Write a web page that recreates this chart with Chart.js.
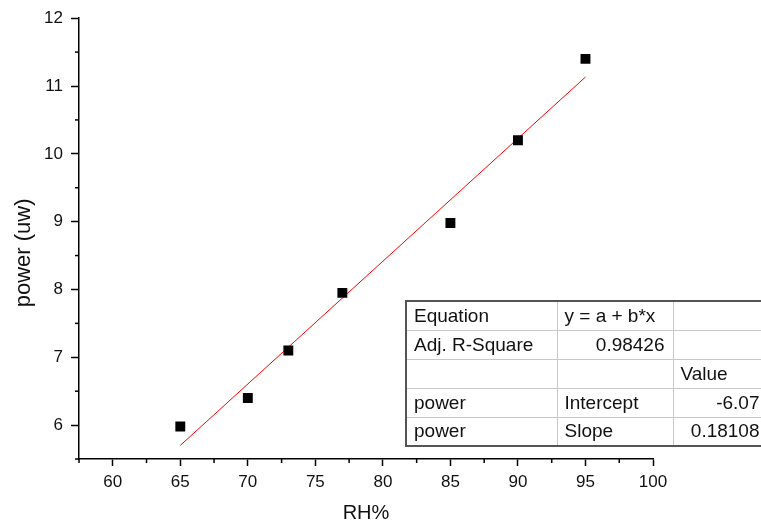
<!DOCTYPE html>
<html>
<head>
<meta charset="utf-8">
<script src="https://cdn.jsdelivr.net/npm/chart.js@4/dist/chart.umd.min.js"></script>
<style>
  body { margin: 0; background: #fff; }
  #wrap { position: relative; width: 761px; height: 529px; overflow: hidden; }
  #fitTable {
    position: absolute; left: 405px; top: 300px;
    border-collapse: collapse; table-layout: fixed; width: 362px;
    font-family: "Liberation Sans", Arial, sans-serif; font-size: 19px; color: #111;
    border-top: 2px solid #555; border-left: 2px solid #555; border-bottom: 2px solid #555;
  }
  #fitTable td {
    box-sizing: border-box;
    border: 1px solid #c8c8c8; height: 29px; padding: 0 8px 0 7px; white-space: nowrap;
  }
  #fitTable tr:first-child td { border-top: none; }
  #fitTable tr:last-child td { border-bottom: none; }
  #fitTable td:first-child { border-left: none; }
  #fitTable .num { text-align: right; }
</style>
</head>
<body>
<div id="wrap">
  <canvas id="chart"></canvas>
  <table id="fitTable">
    <colgroup><col style="width:151px"><col style="width:116px"><col style="width:95px"></colgroup>
  </table>
</div>
<script>
const rh = [65, 70, 73, 77, 85, 90, 95];
const power = [5.98, 6.40, 7.10, 7.95, 8.98, 10.20, 11.40];

const intercept = -6.07;
const slope = 0.18108;
const adjR2 = '0.98426';
const fitX = [65, 95];

const xTicks = [60, 65, 70, 75, 80, 85, 90, 95, 100];
const yTicks = [6, 7, 8, 9, 10, 11, 12];

const tableRows = [
    ['Equation', 'y = a + b*x', ''],
    ['Adj. R-Square', adjR2, ''],
    ['', '', 'Value'],
    ['power', 'Intercept', '-6.07'],
    ['power', 'Slope', '0.18108']
];

// table next to the fit
const table = document.getElementById('fitTable');
tableRows.forEach((row, r) => {
    const tr = document.createElement('tr');
    row.forEach((cell, c) => {
        const td = document.createElement('td');
        td.textContent = cell;
        if ((r === 1 && c === 1) || (r >= 3 && c === 2)) td.className = 'num';
        tr.appendChild(td);
    });
    table.appendChild(tr);
});

const font = "'Liberation Sans', Arial, sans-serif";

// short minor ticks + y title (sits a bit below the axis middle in the original)
const extras = {
    id: 'extras',
    afterDraw(chart) {
        const c = chart.ctx;
        const xs = chart.scales.x, ys = chart.scales.y;
        c.save();
        c.strokeStyle = '#000';
        c.lineWidth = 1.5;
        for (let v = 57.5; v <= 100; v += 5) {
            const px = xs.getPixelForValue(v);
            c.beginPath();
            c.moveTo(px, xs.top);
            c.lineTo(px, xs.top + 4);
            c.stroke();
        }
        for (let v = 5.5; v <= 12; v += 1) {
            const py = ys.getPixelForValue(v);
            c.beginPath();
            c.moveTo(ys.right, py);
            c.lineTo(ys.right - 4, py);
            c.stroke();
        }
        c.translate(24, ys.getPixelForValue(8.54));
        c.rotate(-Math.PI / 2);
        c.fillStyle = '#111';
        c.font = "22px " + font;
        c.textAlign = 'center';
        c.textBaseline = 'middle';
        c.fillText('power (uw)', 0, 0);
        c.restore();
    }
};

new Chart(document.getElementById('chart'), {
    type: 'scatter',
    data: {
        datasets: [
            {
                label: 'power',
                data: rh.map((x, i) => ({ x: x, y: power[i] })),
                pointStyle: 'rect',
                pointRadius: 7,
                pointBackgroundColor: '#000',
                pointBorderColor: '#000',
                borderWidth: 0
            },
            {
                label: 'fit',
                type: 'line',
                data: fitX.map(x => ({ x: x, y: intercept + slope * x })),
                borderColor: '#ff0000',
                borderWidth: 1,
                pointRadius: 0,
                fill: false
            }
        ]
    },
    options: {
        responsive: true,
        maintainAspectRatio: false,
        animation: false,
        layout: { padding: { top: 14, right: 108, left: 0, bottom: 0 } },
        plugins: { legend: { display: false }, tooltip: { enabled: false } },
        scales: {
            x: {
                type: 'linear',
                min: 57.5,
                max: 100,
                afterBuildTicks: s => { s.ticks = xTicks.map(v => ({ value: v })); },
                ticks: { color: '#111', font: { family: font, size: 17 }, padding: 6, maxRotation: 0 },
                grid: { drawOnChartArea: false, drawTicks: true, tickLength: 7, tickColor: '#000', tickWidth: 1.5 },
                border: { color: '#000', width: 1.5 },
                title: { display: true, text: 'RH%', color: '#111', font: { family: font, size: 20 }, padding: { top: 6 } },
                afterFit: s => { s.height = 70; }
            },
            y: {
                type: 'linear',
                min: 5.5,
                max: 12,
                afterBuildTicks: s => { s.ticks = yTicks.map(v => ({ value: v })); },
                ticks: { color: '#111', font: { family: font, size: 17 }, padding: 8 },
                grid: { drawOnChartArea: false, drawTicks: true, tickLength: 8, tickColor: '#000', tickWidth: 1.5 },
                border: { color: '#000', width: 1.5 },
                afterFit: s => { s.width = 79; }
            }
        }
    },
    plugins: [extras]
});
</script>
</body>
</html>
